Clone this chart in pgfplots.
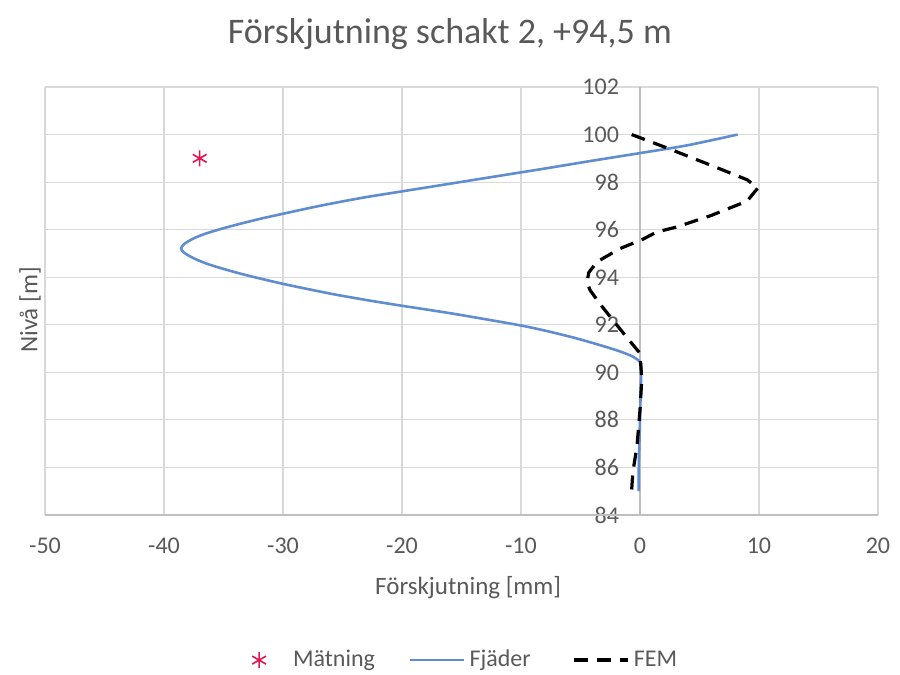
\documentclass[border=0pt]{standalone}
\usepackage{pgfplots}
\pgfplotsset{compat=1.18}
\usepackage{fontspec}
\setmainfont{Carlito}
\definecolor{txt}{RGB}{89,89,89}
\definecolor{gridc}{RGB}{217,217,217}
\definecolor{axc}{RGB}{191,191,191}
\definecolor{fjader}{RGB}{96,140,210}
\definecolor{matn}{RGB}{225,20,80}
\pgfplotsset{longline/.style={legend image code/.code={\draw[##1] (0pt,0pt) -- (27pt,0pt);}},
  markleg/.style={legend image code/.code={\path[draw=none] (0pt,0pt) -- (27pt,0pt); \draw[##1] plot[only marks] coordinates {(12pt,0pt)};}}}
\begin{document}
\begin{tikzpicture}
\path[use as bounding box] (0,0) rectangle (450pt,337.5pt);
\begin{axis}[
  at={(22.5pt,80pt)}, anchor=south west,
  scale only axis, width=416.5pt, height=214pt,
  xmin=-50, xmax=20, ymin=84, ymax=102,
  xtick={-50,-40,...,20}, ytick={84,86,...,102},
  grid=major, grid style={gridc, line width=0.6pt},
  extra x ticks={0}, extra x tick labels={},
  extra x tick style={grid style={axc, line width=0.8pt}},
  extra y ticks={84}, extra y tick labels={},
  extra y tick style={grid style={axc, line width=0.8pt}},
  axis line style={draw=none}, major tick length=0pt, tick style={draw=none},
  /pgf/number format/assume math mode=true,
  tick label style={font=\fontsize{12}{14}\selectfont, text=txt},
  yticklabel style={xshift=290.5pt},
  xticklabel style={yshift=-8pt},
  xlabel={Förskjutning [mm]},
  xlabel style={at={(axis description cs:0.508,-0.1706)}, anchor=center, font=\fontsize{12.5}{15}\selectfont, text=txt},
  ylabel={Nivå [m]},
  ylabel style={at={(axis description cs:-0.018,0.479)}, anchor=center, font=\fontsize{12.5}{15}\selectfont, text=txt},
  title={Förskjutning schakt 2, +94,5 m},
  title style={at={(axis description cs:0.486,1.096)}, anchor=center, font=\fontsize{18}{21}\selectfont, text=txt},
  legend columns=3,
  legend style={at={(axis description cs:0.496,-0.339)}, anchor=center, draw=none, fill=none,
    font=\fontsize{12}{14}\selectfont, text=txt,
    /tikz/column 2/.style={column sep=15pt},
    /tikz/column 4/.style={column sep=19pt}},
]
\addplot[only marks, mark=asterisk, mark size=4pt, color=matn, line width=0.8pt, markleg]
  coordinates {(-37,99)};
\addlegendentry{Mätning}
\addplot[color=fjader, line width=1.3pt, smooth, tension=0.5, longline]
  coordinates {
(8.2,100.0)
(4,99.55)
(0,99.22)
(-4,98.9)
(-8,98.57)
(-12,98.25)
(-16,97.93)
(-20,97.61)
(-23,97.37)
(-25.5,97.14)
(-27.7,96.92)
(-29.8,96.69)
(-31.8,96.47)
(-33.5,96.26)
(-35.0,96.06)
(-36.4,95.85)
(-37.3,95.68)
(-38.0,95.5)
(-38.4,95.35)
(-38.55,95.21)
(-38.4,95.07)
(-38.0,94.93)
(-37.3,94.75)
(-36.3,94.55)
(-35.0,94.35)
(-33.5,94.14)
(-31.8,93.93)
(-29.9,93.71)
(-27.8,93.49)
(-25.6,93.27)
(-23.1,93.05)
(-20.4,92.83)
(-16,92.49)
(-11.8,92.13)
(-9.6,91.93)
(-7.6,91.71)
(-5.5,91.45)
(-3.4,91.15)
(-1.8,90.9)
(-0.6,90.66)
(0.05,90.4)
(0.1,90)
(0.05,89)
(0,88)
(-0.05,87)
(-0.1,86)
(-0.1,85)
};
\addlegendentry{Fjäder}
\addplot[color=black, line width=1.6pt, dash pattern=on 7pt off 4.5pt, longline]
  coordinates {
(-0.7,100)
(2.3,99.43)
(6,98.7)
(9,98.1)
(9.9,97.75)
(9,97.2)
(6,96.6)
(3,96.1)
(1.4,95.9)
(0.25,95.6)
(-1.7,95.2)
(-3.6,94.65)
(-4.3,94.2)
(-4.45,93.8)
(-4.2,93.46)
(-3.4,92.9)
(-1.4,91.65)
(0,90.8)
(0.15,89.7)
(0,88.4)
(-0.25,86.9)
(-0.6,85.8)
(-0.7,85.05)
};
\addlegendentry{FEM}
\end{axis}
\end{tikzpicture}
\end{document}
